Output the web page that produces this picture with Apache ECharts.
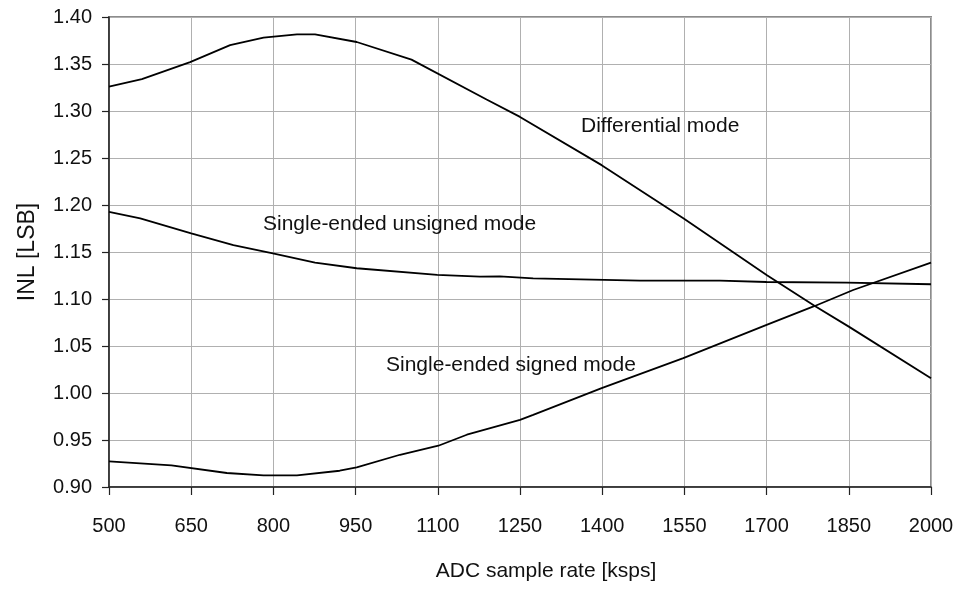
<!DOCTYPE html>
<html>
<head>
<meta charset="utf-8">
<script src="https://cdn.jsdelivr.net/npm/echarts@6/dist/echarts.min.js"></script>
<style>
html,body{margin:0;padding:0;background:#fff;}
#chart{width:965px;height:590px;}
</style>
</head>
<body>
<div id="chart"></div>
<script>
// Data (x = ADC sample rate in ksps, y = INL in LSB)
var diffX = [500, 560, 648, 721, 782, 843, 876, 952, 1052, 1189, 1250, 1399, 1548, 1700, 1788, 1850, 2000];
var diffY = [1.326, 1.334, 1.352, 1.370, 1.378, 1.3816, 1.3816, 1.3734, 1.3547, 1.3122, 1.2937, 1.2424, 1.1858, 1.1256, 1.0926, 1.0706, 1.0158];

var unsX = [500, 557, 650, 727, 799, 876, 952, 1099, 1177, 1213, 1274, 1469, 1615, 1700, 1846, 2000];
var unsY = [1.1928, 1.1858, 1.1699, 1.1574, 1.1486, 1.1386, 1.1327, 1.1256, 1.1238, 1.1240, 1.1220, 1.1195, 1.1195, 1.1181, 1.1174, 1.1157];

var sigX = [500, 614, 715, 782, 843, 921, 952, 1031, 1101, 1153, 1250, 1274, 1399, 1548, 1700, 1788, 1858, 2000];
var sigY = [0.9272, 0.9230, 0.9149, 0.9123, 0.9123, 0.9173, 0.9208, 0.9343, 0.9439, 0.9556, 0.9715, 0.9768, 1.0052, 1.0371, 1.0724, 1.0926, 1.1096, 1.1386];

var xMin = 500, xMax = 2000, xStep = 150;
var yMin = 0.90, yMax = 1.40, yStep = 0.05;

var seriesNames = ['Differential mode', 'Single-ended unsigned mode', 'Single-ended signed mode'];
var xTitle = 'ADC sample rate [ksps]';
var yTitle = 'INL [LSB]';

// x values are offset by xMin so ticks start exactly at xMin
function pairs(xs, ys) {
  return xs.map(function (x, i) { return [x - xMin, ys[i]]; });
}

var font = 'Liberation Sans';
var lineStyle = { color: '#000', width: 1.8 };

function mkSeries(name, xs, ys) {
  return {
    name: name, type: 'line', data: pairs(xs, ys),
    showSymbol: false, symbol: 'none', smooth: false,
    lineStyle: lineStyle, z: 5, silent: true
  };
}

var chart = echarts.init(document.getElementById('chart'), null, { renderer: 'canvas' });
chart.setOption({
  backgroundColor: '#fff',
  animation: false,
  grid: {
    left: 109, top: 17, width: 822, height: 470,
    show: true, borderColor: '#8c8c8c', borderWidth: 2, backgroundColor: 'transparent'
  },
  xAxis: {
    type: 'value', min: 0, max: xMax - xMin, interval: xStep,
    name: xTitle, nameLocation: 'middle', nameGap: 74,
    nameTextStyle: { fontFamily: font, fontSize: 21, color: '#111', padding: [0, 0, 0, 52] },
    axisLine: { show: true, lineStyle: { color: '#222', width: 1.5 } },
    axisTick: { show: true, inside: false, length: 8, lineStyle: { color: '#222', width: 1.2 } },
    axisLabel: {
      margin: 29, fontFamily: font, fontSize: 20, color: '#111',
      formatter: function (v) { return String(v + xMin); }
    },
    splitLine: { show: true, lineStyle: { color: '#b0b0b0', width: 1 } }
  },
  yAxis: {
    type: 'value', min: yMin, max: yMax, interval: yStep,
    name: yTitle, nameLocation: 'middle', nameGap: 70,
    nameTextStyle: { fontFamily: font, fontSize: 23, color: '#111' },
    axisLine: { show: true, lineStyle: { color: '#222', width: 1.5 } },
    axisTick: { show: true, inside: false, length: 7, lineStyle: { color: '#222', width: 1.2 } },
    axisLabel: {
      margin: 17, fontFamily: font, fontSize: 20, color: '#111',
      formatter: function (v) { return v.toFixed(2); }
    },
    splitLine: { show: true, lineStyle: { color: '#b0b0b0', width: 1 } }
  },
  series: [
    mkSeries(seriesNames[0], diffX, diffY),
    mkSeries(seriesNames[1], unsX, unsY),
    mkSeries(seriesNames[2], sigX, sigY)
  ],
  graphic: [
    { type: 'text', left: 581, top: 116, z: 10,
      style: { text: seriesNames[0], fontFamily: font, fontSize: 21, fill: '#111' } },
    { type: 'text', left: 263, top: 214, z: 10,
      style: { text: seriesNames[1], fontFamily: font, fontSize: 21, fill: '#111' } },
    { type: 'text', left: 386, top: 355, z: 10,
      style: { text: seriesNames[2], fontFamily: font, fontSize: 21, fill: '#111' } }
  ]
});
</script>
</body>
</html>
